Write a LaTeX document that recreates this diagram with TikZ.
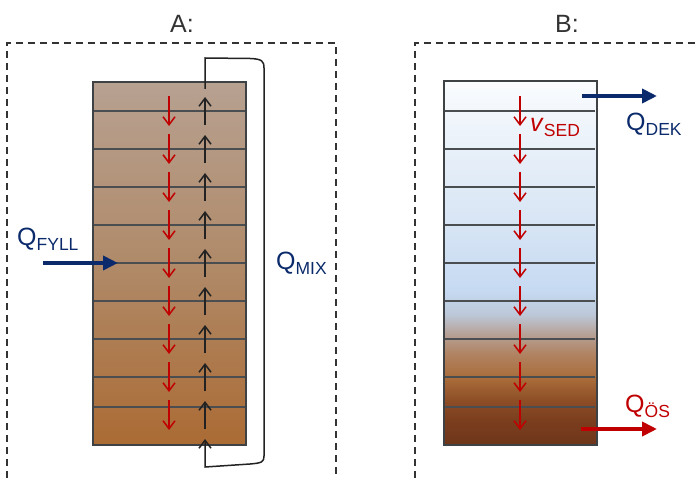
\documentclass[tikz,border=0pt]{standalone}
\usepackage{fontspec}
\setmainfont{Liberation Sans}
\usetikzlibrary{arrows.meta}

\definecolor{navy}{HTML}{0B2A6B}
\definecolor{sedred}{HTML}{C00000}
\definecolor{frame}{HTML}{333333}
\definecolor{rowgrey}{HTML}{4A4E50}
\definecolor{mixblack}{HTML}{222222}
% sludge column (A)
\definecolor{aTop}{HTML}{B7A191}
\definecolor{aMid}{HTML}{B08A69}
\definecolor{aBot}{HTML}{AB6B34}
% settled column (B), bottom to top
\definecolor{bB0}{HTML}{6F361A}
\definecolor{bB1}{HTML}{7B3E1E}
\definecolor{bB2}{HTML}{8E4F27}
\definecolor{bB3}{HTML}{AA6D3A}
\definecolor{bB4}{HTML}{B08261}
\definecolor{bB5}{HTML}{B6A196}
\definecolor{bB6}{HTML}{BCC8D8}
\definecolor{bB7}{HTML}{C6DAF2}
\definecolor{bB8}{HTML}{D6E4F4}
\definecolor{bB9}{HTML}{E8F0F9}
\definecolor{bB10}{HTML}{FAFCFE}

\pgfdeclareverticalshading{basinA}{100bp}{color(0bp)=(aBot); color(25bp)=(aBot);
  color(50bp)=(aMid); color(75bp)=(aTop); color(100bp)=(aTop)}
\pgfdeclareverticalshading{basinB}{100bp}{color(0bp)=(bB0); color(25bp)=(bB0);
  color(28.4bp)=(bB1); color(31.2bp)=(bB2); color(34.2bp)=(bB3);
  color(37.4bp)=(bB4); color(40.2bp)=(bB5); color(42.9bp)=(bB6);
  color(46.3bp)=(bB7); color(54.6bp)=(bB8); color(65.6bp)=(bB9);
  color(75bp)=(bB10); color(100bp)=(bB10)}

\newcommand\bigtext{\fontsize{25}{29}\selectfont}
\newcommand\lowtext[1]{\raisebox{-5pt}{\fontsize{17.5}{20}\selectfont #1}}

\tikzset{
  region/.style={draw=frame, line width=1.7pt, dash pattern=on 7pt off 5pt},
  column/.style={draw=rowgrey!85!black, line width=2pt, inner sep=0pt, outer sep=0pt,
    minimum width=153pt, minimum height=363pt},
  rowline/.style={draw=rowgrey, line width=1.1pt},
  sink/.style={draw=sedred, line width=1.5pt, -{Straight Barb[length=8pt,width=12pt]}},
  rise/.style={draw=mixblack, line width=1.5pt, -{Straight Barb[length=8pt,width=12pt]}},
  flow/.style={line width=4.5pt, -{Triangle[length=15pt,width=14pt]}},
  label/.style={anchor=base west, inner sep=0pt, font=\bigtext},
  title/.style={anchor=base, inner sep=0pt, font=\bigtext, text=frame}
}

\begin{document}
\begin{tikzpicture}[x=1pt, y=-1pt]
\useasboundingbox (0,0) rectangle (695,478);
\clip (0,0) rectangle (695,478);

% titles
\node[title] (titleA) at (182,33) {A:};
\node[title] (titleB) at (567,33) {B:};

% dashed regions
\draw[region] (7,490) -- (7,43) -- (336,43) -- (336,490);
\draw[region] (415,490) -- (415,43) -- (710,43);

% columns
\node[column, shading=basinA] (colA) at (169.5,263.5) {};
\node[column, shading=basinB] (colB) at (520,263) {};

\foreach \y in {111,149,187,225,263,301,339,377,407}{
  \draw[rowline] (94,\y) -- (245,\y);
  \draw[rowline] (445,\y) -- (595,\y);
}
\draw[draw=rowgrey!85!black, line width=2pt] (colA.north west) rectangle (colA.south east);
\draw[draw=rowgrey!85!black, line width=2pt] (colB.north west) rectangle (colB.south east);

% settling (red) and mixing (black) arrows
\foreach \k in {0,...,8}{
  \pgfmathsetmacro\ys{96+38*\k}
  \pgfmathsetmacro\ye{126+38*\k}
  \draw[sink] (169,\ys) -- (169,\ye);
  \draw[sink] (520,\ys) -- (520,\ye);
  \pgfmathsetmacro\rs{125+38*\k}
  \pgfmathsetmacro\re{97+38*\k}
  \draw[rise] (205,\rs) -- (205,\re);
}

% recirculation loop
\coordinate (loopTop) at (205,89);
\coordinate (loopEnd) at (205,439);
\draw[rise] (loopTop) -- (205,58) -- (250,58.5)
  .. controls (262,59) and (264,61) .. (264,68) -- (264,456)
  .. controls (264,462) and (262,463) .. (250,464) -- (205,467) -- (loopEnd);

% flows in and out
\coordinate (fyllStart) at (43,263);
\coordinate (fyllEnd) at (118,263);
\draw[flow, navy] (fyllStart) -- (fyllEnd);
\coordinate (dekStart) at (582,96);
\coordinate (dekEnd) at (657,96);
\draw[flow, navy] (dekStart) -- (dekEnd);
\coordinate (osStart) at (581,429);
\coordinate (osEnd) at (657,429);
\draw[flow, sedred] (osStart) -- (osEnd);

% labels
\node[label, text=navy] (qfyll) at (17,245) {Q\lowtext{FYLL}};
\node[label, text=navy] (qmix) at (276,269) {Q\lowtext{MIX}};
\node[label, text=navy] (qdek) at (626,131) {Q\lowtext{DEK}};
\node[label, text=sedred] (qos) at (625,412) {Q\lowtext{ÖS}};
\node[label, text=sedred] (vsed) at (530,132) {\textit{v}\lowtext{SED}};
\end{tikzpicture}
\end{document}
